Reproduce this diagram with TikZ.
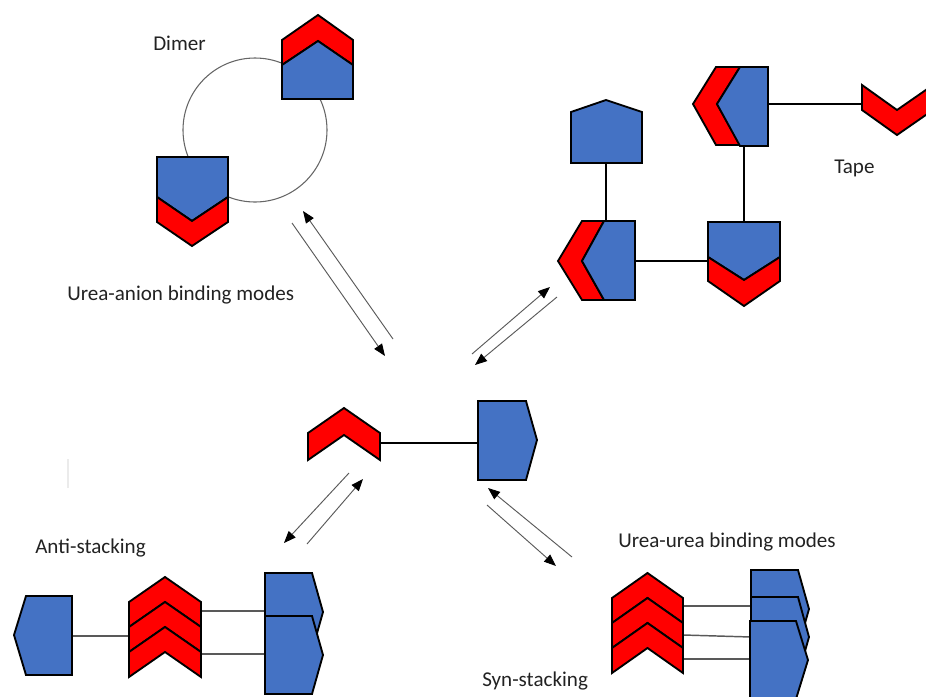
\documentclass[tikz,border=0pt]{standalone}
\usepackage{fontspec}
\setmainfont{Carlito}
\usetikzlibrary{arrows.meta}
\definecolor{ublue}{HTML}{4472C4}
\definecolor{ured}{HTML}{FF0000}
\definecolor{txt}{HTML}{222222}
\definecolor{arrgray}{HTML}{595959}
\begin{document}
\begin{tikzpicture}[x=0.75pt,y=-0.75pt,
  bshape/.style={fill=ublue,draw=black,line width=1.4pt,line join=miter},
  rshape/.style={fill=ured,draw=black,line width=1.4pt,line join=miter},
  bond/.style={draw=black,line width=1.1pt},
  stackbond/.style={draw=black!65,line width=1.1pt},
  eqarrow/.style={draw=arrgray,line width=0.7pt,-{Triangle[length=9pt,width=7pt,color=black]}},
  lbl/.style={anchor=base west,inner sep=0pt,text=txt,font=\fontsize{15.8}{19}\selectfont}]
\useasboundingbox (0,0) rectangle (926,697);
\clip (0,0) rectangle (926,697);

% ---------- labels ----------
\node[lbl] (tdimer) at (153,50) {Dimer};
\node[lbl] (ttape) at (834,173) {Tape};
\node[lbl] (tanion) at (67,300) {Urea-anion binding modes};
\node[lbl] (tanti) at (35,553.5) {Anti-stacking};
\node[lbl] (turea) at (618,547) {Urea-urea binding modes};
\node[lbl] (tsyn) at (482,686) {Syn-stacking};

% faint mark
\coordinate (fm1) at (68,459);
\coordinate (fm2) at (68,488);
\draw[black!8,line width=0.8pt] (fm1) -- (fm2);

% ---------- dimer ----------
\coordinate (dc) at (255,130);
\draw[black!60,line width=0.8pt] (dc) circle[radius=72];
\filldraw[rshape] (282,40)--(318,15)--(353,40)--(353,65)--(318,41)--(282,65)--cycle;
\filldraw[bshape] (282,65)--(318,41)--(353,65)--(353,99)--(282,99)--cycle;
\filldraw[bshape] (157,157)--(228,157)--(228,197)--(192,221)--(157,197)--cycle;
\filldraw[rshape] (157,197)--(192,221)--(228,197)--(228,222)--(192,246)--(157,222)--cycle;

% ---------- tape ----------
\coordinate (tA) at (606,163);
\coordinate (tBt) at (606,221);
\coordinate (tBr) at (635,261);
\coordinate (tCl) at (708,261);
\coordinate (tCt) at (744,222);
\coordinate (tDb) at (744,146);
\coordinate (tDr) at (768,104);
\coordinate (tEl) at (862,104);
\draw[bond] (tA) -- (tBt);
\draw[bond] (tBr) -- (tCl);
\draw[bond] (tCt) -- (tDb);
\draw[bond] (tDr) -- (tEl);
\filldraw[bshape] (571,112)--(606,100)--(642,112)--(642,163)--(571,163)--cycle;
\filldraw[rshape] (582,221)--(604,221)--(582,261)--(604,300)--(582,300)--(558,261)--cycle;
\filldraw[bshape] (604,221)--(635,221)--(635,300)--(604,300)--(582,261)--cycle;
\filldraw[bshape] (708,222)--(780,222)--(780,257)--(744,280)--(708,257)--cycle;
\filldraw[rshape] (708,257)--(744,280)--(780,257)--(780,281)--(744,306)--(708,281)--cycle;
\filldraw[rshape] (716,67)--(740,67)--(717,104)--(740,145)--(716,145)--(693,104)--cycle;
\filldraw[bshape] (740,67)--(768,67)--(768,146)--(740,146)--(717,104)--cycle;
\filldraw[rshape] (862,85)--(897,110)--(933,85)--(933,110)--(897,135)--(862,110)--cycle;

% ---------- centre ----------
\coordinate (cR) at (380,443);
\coordinate (cB) at (478,443);
\draw[bond] (cR) -- (cB);
\filldraw[rshape] (308,433)--(344,408)--(380,433)--(380,460)--(344,435)--(308,460)--cycle;
\filldraw[bshape] (478,401)--(526,401)--(537,440)--(526,480)--(478,480)--cycle;

% ---------- equilibrium arrows ----------
\coordinate (a1s) at (292,223);
\coordinate (a1e) at (385,356);
\coordinate (a2s) at (393,339);
\coordinate (a2e) at (303,211);
\draw[eqarrow] (a1s) -- (a1e);
\draw[eqarrow] (a2s) -- (a2e);
\coordinate (a3s) at (472,354);
\coordinate (a3e) at (550,287);
\coordinate (a4s) at (557,297);
\coordinate (a4e) at (475,365);
\draw[eqarrow] (a3s) -- (a3e);
\draw[eqarrow] (a4s) -- (a4e);
\coordinate (a5s) at (349,473);
\coordinate (a5e) at (284,543);
\coordinate (a6s) at (307,544);
\coordinate (a6e) at (363,479);
\draw[eqarrow] (a5s) -- (a5e);
\draw[eqarrow] (a6s) -- (a6e);
\coordinate (a7s) at (487,505);
\coordinate (a7e) at (556,566);
\coordinate (a8s) at (572,557);
\coordinate (a8e) at (488,488);
\draw[eqarrow] (a7s) -- (a7e);
\draw[eqarrow] (a8s) -- (a8e);

% ---------- anti-stacking ----------
\coordinate (nL) at (72,636);
\coordinate (nC) at (129,636);
\coordinate (nC1) at (201,611);
\coordinate (nR1) at (266,611);
\coordinate (nC2) at (201,654);
\coordinate (nR2) at (266,654);
\draw[stackbond] (nL) -- (nC);
\draw[stackbond] (nC1) -- (nR1);
\draw[stackbond] (nC2) -- (nR2);
\filldraw[bshape] (26,596)--(72,596)--(72,675)--(26,675)--(14,635)--cycle;
\foreach \a in {577,602,627}{
  \filldraw[rshape] (129,\a+25)--(165,\a)--(201,\a+25)--(201,\a+50)--(165,\a+25)--(129,\a+50)--cycle;
}
\filldraw[bshape] (265,573)--(312,573)--(323,612)--(312,651)--(265,651)--cycle;
\filldraw[bshape] (265,616)--(312,616)--(323,655)--(312,694)--(265,694)--cycle;

% ---------- syn-stacking ----------
\coordinate (sC1) at (683,606);
\coordinate (sR1) at (751,606);
\coordinate (sC2) at (683,635);
\coordinate (sR2) at (751,637);
\coordinate (sC3) at (683,659);
\coordinate (sR3) at (751,659);
\draw[stackbond] (sC1) -- (sR1);
\draw[stackbond] (sC2) -- (sR2);
\draw[stackbond] (sC3) -- (sR3);
\foreach \a in {573,598,623}{
  \filldraw[rshape] (612,\a+25)--(647.5,\a)--(683,\a+25)--(683,\a+50)--(647.5,\a+25)--(612,\a+50)--cycle;
}
\filldraw[bshape] (751,570)--(798,570)--(809,609)--(798,648)--(751,648)--cycle;
\filldraw[bshape] (751,597)--(798,597)--(809,637)--(798,676)--(751,676)--cycle;
\filldraw[bshape] (750,621)--(796,621)--(808,660)--(796,699)--(750,699)--cycle;
\end{tikzpicture}
\end{document}
